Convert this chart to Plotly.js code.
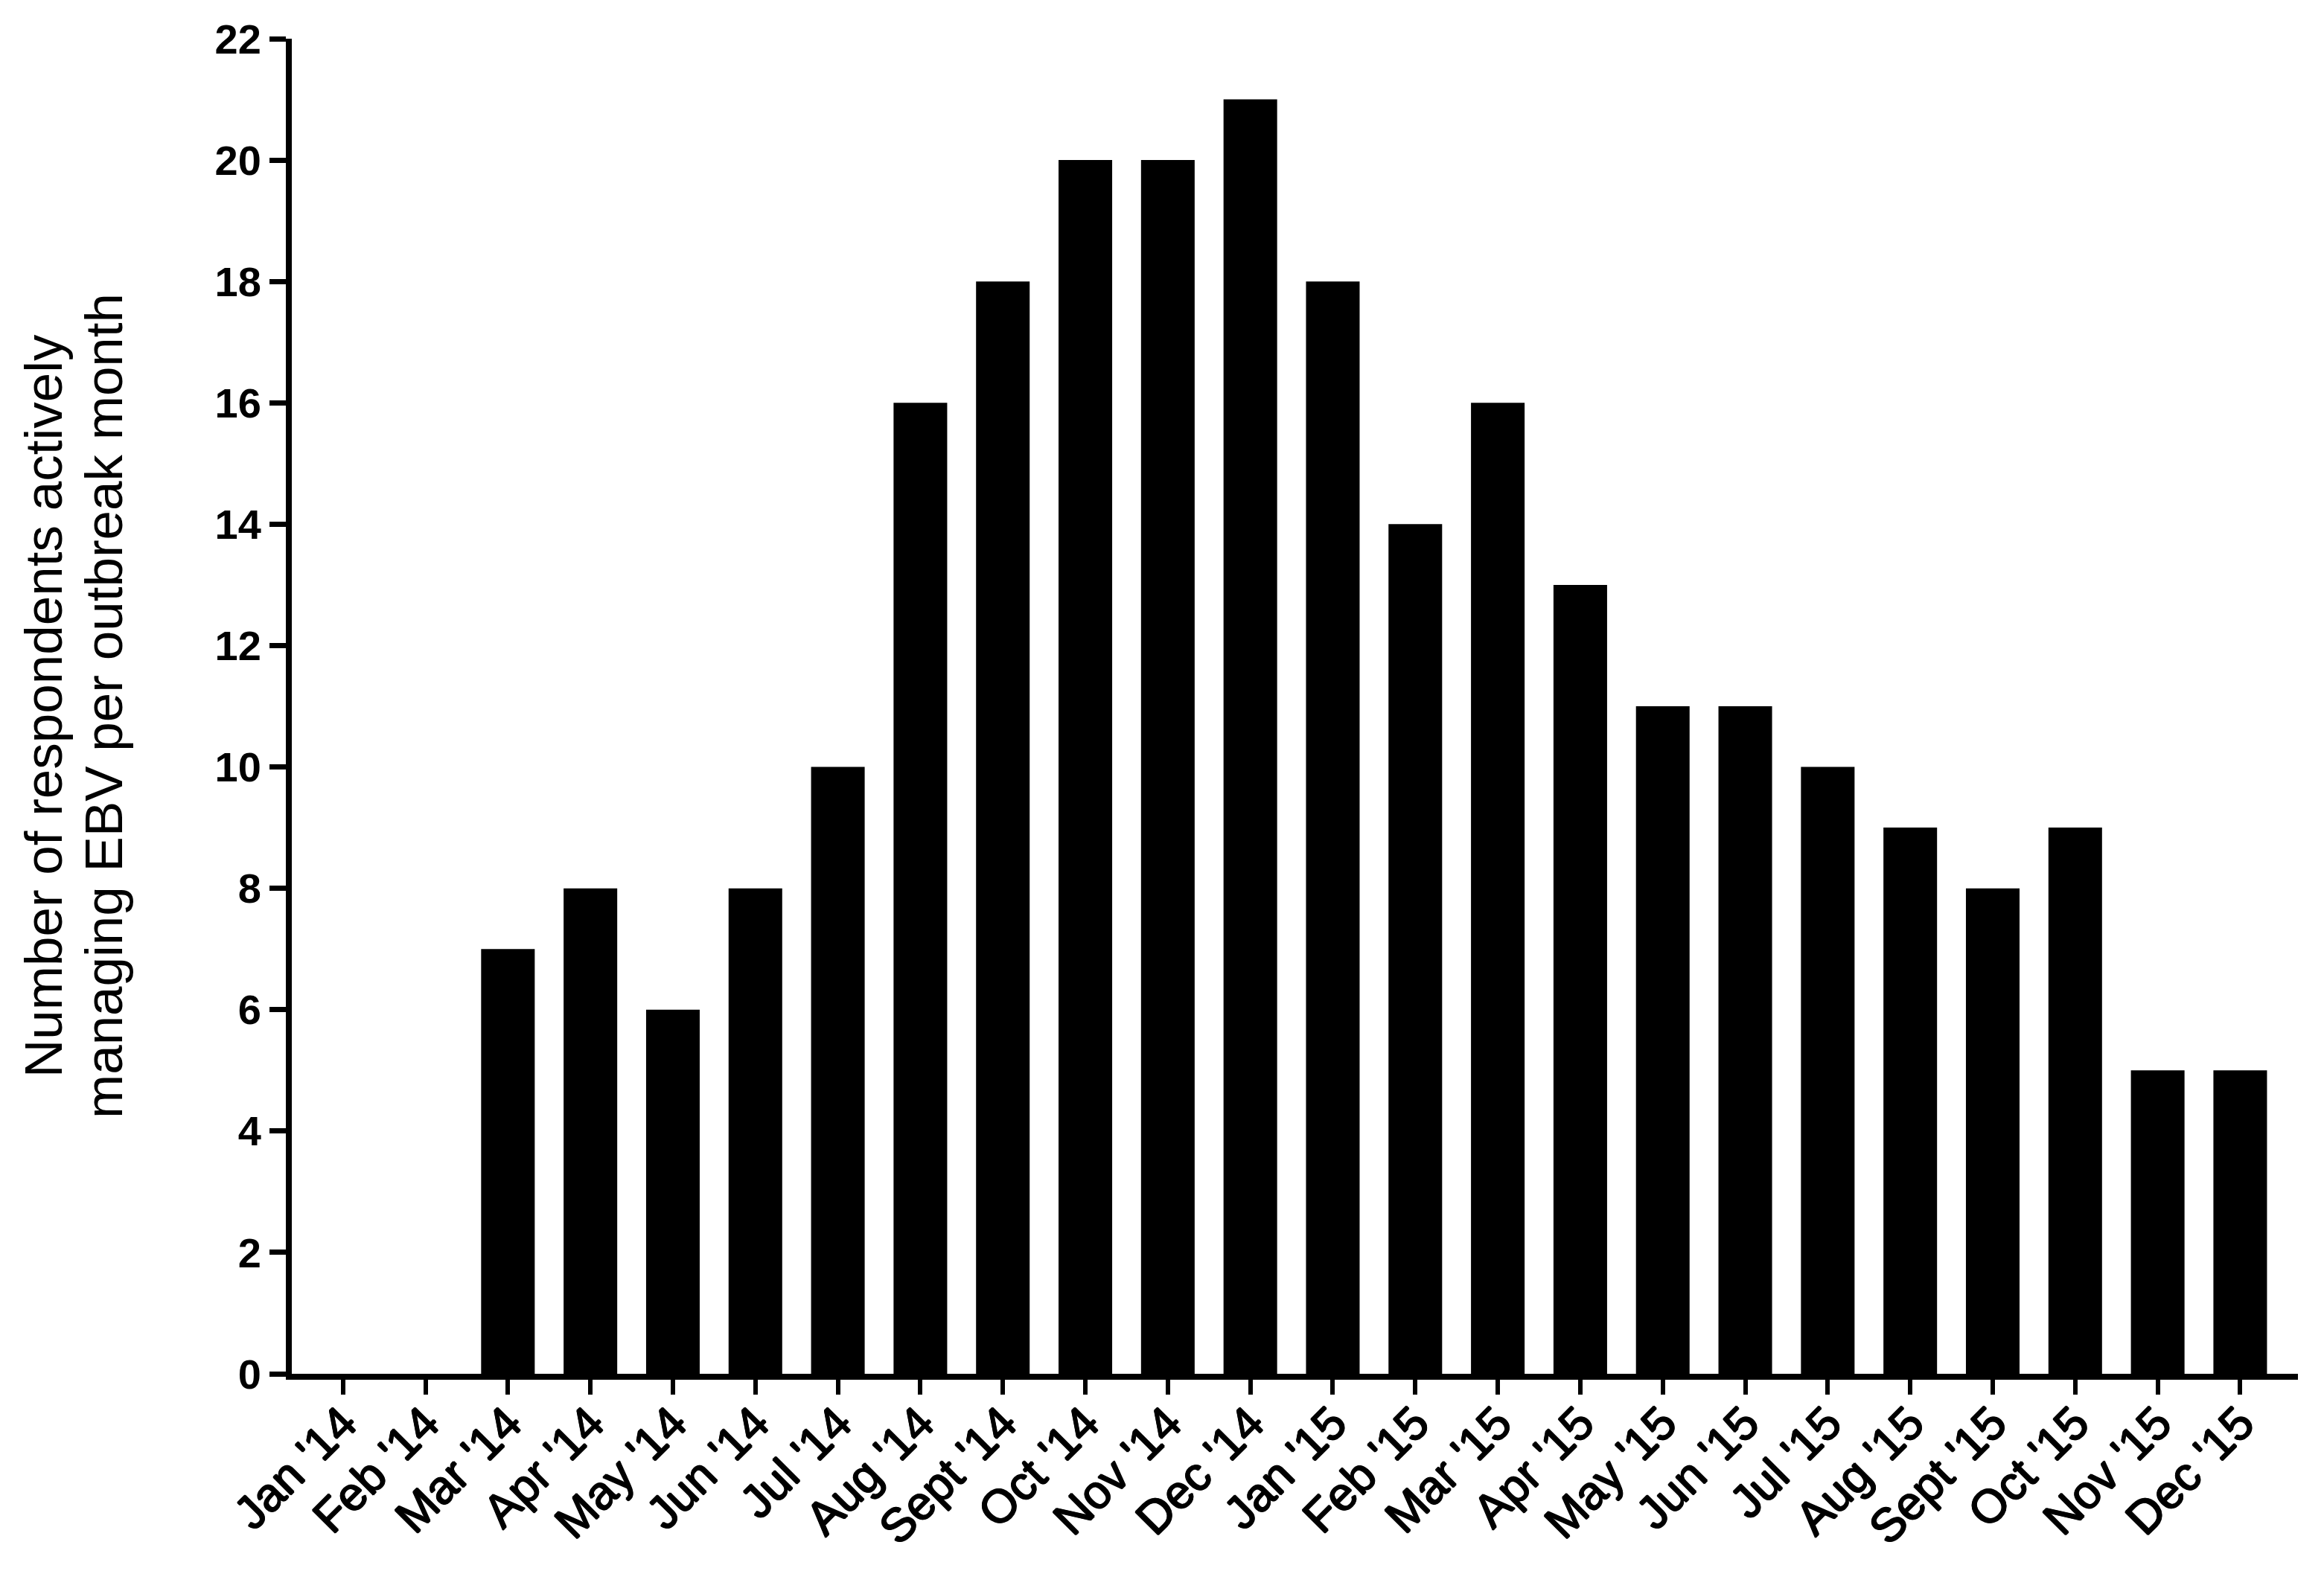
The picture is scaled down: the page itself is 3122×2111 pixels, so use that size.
<!DOCTYPE html>
<html>
<head>
<meta charset="utf-8">
<script src="https://cdn.plot.ly/plotly-3.0.1.min.js"></script>
<style>
  html, body { margin: 0; padding: 0; background: #fff; }
  #plot { width: 3122px; height: 2111px; }
</style>
</head>
<body>
<div id="plot"></div>
<script>
const months = [
  "Jan '14", "Feb '14", "Mar '14", "Apr '14", "May '14", "Jun '14",
  "Jul '14", "Aug '14", "Sept '14", "Oct '14", "Nov '14", "Dec '14",
  "Jan '15", "Feb '15", "Mar '15", "Apr '15", "May '15", "Jun '15",
  "Jul '15", "Aug '15", "Sept '15", "Oct '15", "Nov '15", "Dec '15"
]
const respondents = [0, 0, 7, 8, 6, 8, 10, 16, 18, 20, 20, 21, 18, 14, 16, 13, 11, 11, 10, 9, 8, 9, 5, 5]
const yTicks = [0, 2, 4, 6, 8, 10, 12, 14, 16, 18, 20, 22]
// y title is drawn as two separate lines so the line gap can match
const yTitleLines = ['Number of respondents actively', 'managing EBV per outbreak month']

const bars = [{
  x: months,
  y: respondents,
  type: 'bar',
  width: 0.65,
  marker: { color: '#000', line: { width: 0 } },
  hoverinfo: 'x+y'
}]

const plotLeft = 392
const plotWidth = 3122 - plotLeft - 35
const paperX = px => (px - plotLeft) / plotWidth

// month labels in the original sit between regular and bold
const semiBold = '1px 0 0 #000, -1px 0 0 #000, 0 1px 0 #000, 0 -1px 0 #000'

const layout = {
  width: 3122,
  height: 2111,
  margin: { l: plotLeft, r: 35, t: 52, b: 265 },
  paper_bgcolor: '#fff',
  plot_bgcolor: '#fff',
  showlegend: false,
  font: { family: 'Liberation Sans, Arial, sans-serif', color: '#000' },
  xaxis: {
    type: 'category',
    range: [-0.62, 23.7],
    showline: true,
    linecolor: '#000',
    linewidth: 8,
    ticks: 'outside',
    ticklen: 20,
    tickwidth: 6,
    tickcolor: '#000',
    tickangle: -45,
    ticklabelstandoff: -24,
    tickfont: { family: 'Liberation Sans, Arial, sans-serif', size: 63, color: '#000', shadow: semiBold },
    showgrid: false,
    zeroline: false,
    fixedrange: true
  },
  yaxis: {
    range: [0, 22],
    tickvals: yTicks,
    showline: true,
    linecolor: '#000',
    linewidth: 8,
    ticks: 'outside',
    ticklen: 22,
    tickwidth: 7,
    tickcolor: '#000',
    tickfont: { family: 'Liberation Sans, Arial, sans-serif', size: 56, color: '#000', weight: 'bold' },
    showgrid: false,
    zeroline: false,
    fixedrange: true
  },
  annotations: yTitleLines.map((line, i) => ({
    text: line,
    xref: 'paper',
    yref: 'paper',
    x: paperX(i === 0 ? 58 : 139),
    y: 0.5,
    xanchor: 'center',
    yanchor: 'middle',
    textangle: -90,
    showarrow: false,
    font: { family: 'Liberation Sans, Arial, sans-serif', size: 71, color: '#000' }
  }))
}

Plotly.newPlot('plot', bars, layout, { displayModeBar: false, staticPlot: true })
</script>
</body>
</html>
